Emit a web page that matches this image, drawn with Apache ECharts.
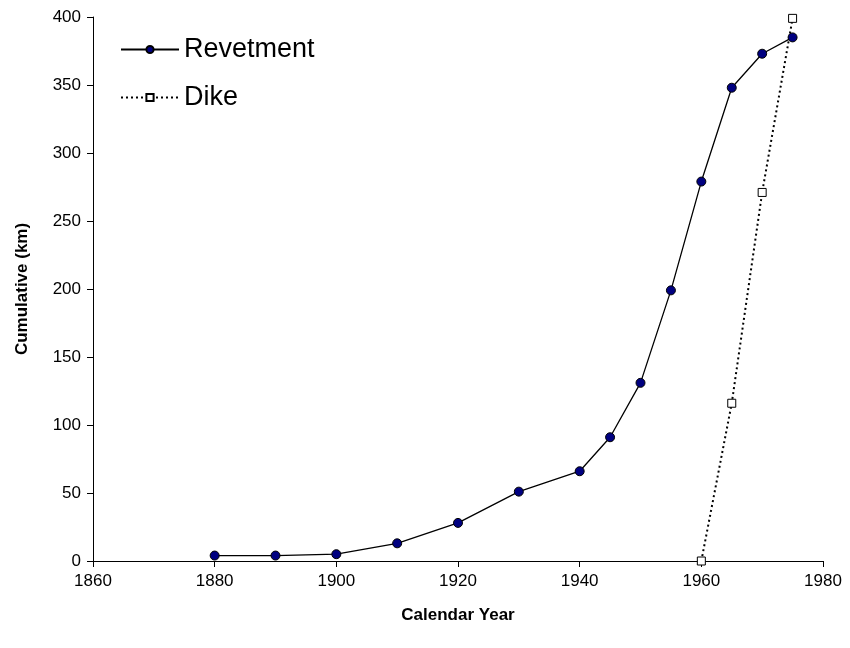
<!DOCTYPE html>
<html>
<head>
<meta charset="utf-8">
<script src="https://cdn.jsdelivr.net/npm/echarts@6/dist/echarts.min.js"></script>
<style>
  html, body { margin: 0; padding: 0; background: #fff; }
  #chart { width: 850px; height: 648px; }
</style>
</head>
<body>
<div id="chart"></div>
<script>
// revetment, cumulative km
const revetYears = [1880, 1890, 1900, 1910, 1920, 1930, 1940, 1945, 1950, 1955, 1960, 1965, 1970, 1975];
const revetValues = [4, 4, 5, 13, 28, 51, 66, 91, 131, 199, 279, 348, 373, 385];
// dike, cumulative km
const dikeYears = [1960, 1965, 1970, 1975];
const dikeValues = [0, 116, 271, 399];

const font = 'Liberation Sans, Arial, sans-serif';

const myChart = echarts.init(document.getElementById('chart'), null, { renderer: 'canvas' });

const option = {
  animation: false,
  grid: { left: 93, right: 27, top: 17, bottom: 87 },
  legend: {
    orient: 'vertical',
    left: 115,
    top: 31,
    itemWidth: 58,
    itemHeight: 9,
    itemGap: 21,
    textStyle: { fontFamily: font, fontSize: 27, color: '#000' },
    data: ['Revetment', 'Dike']
  },
  xAxis: {
    type: 'value',
    min: 1860, max: 1980, interval: 20,
    name: 'Calendar Year',
    nameLocation: 'middle',
    nameGap: 46,
    nameTextStyle: { fontFamily: font, fontSize: 17, fontWeight: 'bold', color: '#000' },
    axisLine: { lineStyle: { color: '#000', width: 1 } },
    axisTick: { show: true, inside: false, length: 6, lineStyle: { color: '#000' } },
    axisLabel: { fontFamily: font, fontSize: 17, color: '#000', margin: 12, formatter: v => String(v) },
    splitLine: { show: false }
  },
  yAxis: {
    type: 'value',
    min: 0, max: 400, interval: 50,
    name: 'Cumulative (km)',
    nameLocation: 'middle',
    nameGap: 62,
    nameTextStyle: { fontFamily: font, fontSize: 17, fontWeight: 'bold', color: '#000' },
    axisLine: { show: true, lineStyle: { color: '#000', width: 1 } },
    axisTick: { show: true, inside: false, length: 6, lineStyle: { color: '#000' } },
    axisLabel: { fontFamily: font, fontSize: 17, color: '#000', margin: 12 },
    splitLine: { show: false }
  },
  series: [
    {
      name: 'Revetment',
      type: 'line',
      data: revetYears.map((y, i) => [y, revetValues[i]]),
      symbol: 'circle',
      symbolSize: 9,
      itemStyle: { color: '#000080', borderColor: '#000', borderWidth: 1 },
      lineStyle: { color: '#000', width: 1.3 }
    },
    {
      name: 'Dike',
      type: 'line',
      data: dikeYears.map((y, i) => [y, dikeValues[i]]),
      symbol: 'rect',
      symbolSize: 8,
      itemStyle: { color: '#fff', borderColor: '#000', borderWidth: 1 },
      lineStyle: { color: '#000', width: 2, type: [2, 3] }
    }
  ]
};

myChart.setOption(option);
window.onresize = function() {
  myChart.resize();
};
</script>
</body>
</html>
